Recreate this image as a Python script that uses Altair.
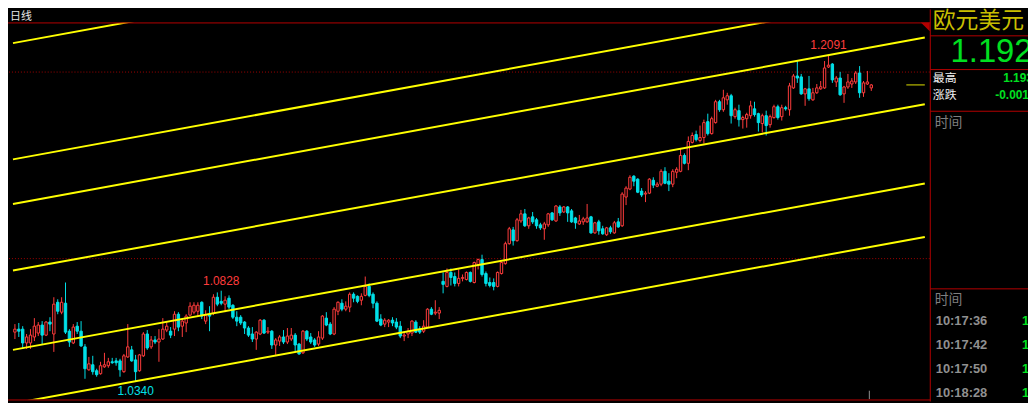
import altair as alt
import pandas as pd

# ---------------- data (EUR/USD daily candles) ----------------
opens = [1.0606, 1.0622, 1.0622, 1.0548, 1.0548, 1.0580, 1.0601, 1.0644, 1.0590, 1.0660,
         1.0596, 1.0766, 1.0713, 1.0761, 1.0611, 1.0548, 1.0638, 1.0611, 1.0527, 1.0404,
         1.0431, 1.0399, 1.0383, 1.0420, 1.0426, 1.0447, 1.0452, 1.0452, 1.0394, 1.0473,
         1.0511, 1.0457, 1.0399, 1.0479, 1.0596, 1.0527, 1.0564, 1.0553, 1.0569, 1.0617,
         1.0611, 1.0622, 1.0702, 1.0638, 1.0655, 1.0697, 1.0713, 1.0718, 1.0766, 1.0665,
         1.0702, 1.0708, 1.0793, 1.0771, 1.0756, 1.0788, 1.0750, 1.0686, 1.0686, 1.0660,
         1.0628, 1.0596, 1.0569, 1.0596, 1.0670, 1.0606, 1.0611, 1.0537, 1.0558, 1.0580,
         1.0553, 1.0569, 1.0590, 1.0542, 1.0495, 1.0611, 1.0580, 1.0564, 1.0542, 1.0574,
         1.0681, 1.0649, 1.0596, 1.0718, 1.0761, 1.0729, 1.0740, 1.0809, 1.0798, 1.0777,
         1.0803, 1.0851, 1.0809, 1.0761, 1.0676, 1.0649, 1.0660, 1.0670, 1.0660, 1.0638,
         1.0585, 1.0596, 1.0601, 1.0660, 1.0622, 1.0611, 1.0633, 1.0729, 1.0708, 1.0708,
         1.0878, 1.0851, 1.0926, 1.0904, 1.0867, 1.0894, 1.0888, 1.0926, 1.0872, 1.0968,
         1.0995, 1.0920, 1.0872, 1.0872, 1.0851, 1.0920, 1.0973, 1.1080, 1.1154, 1.1096,
         1.1202, 1.1240, 1.1176, 1.1224, 1.1208, 1.1181, 1.1160, 1.1181, 1.1245, 1.1202,
         1.1277, 1.1250, 1.1277, 1.1256, 1.1218, 1.1186, 1.1197, 1.1197, 1.1224, 1.1138,
         1.1197, 1.1160, 1.1128, 1.1165, 1.1138, 1.1197, 1.1176, 1.1330, 1.1373, 1.1442,
         1.1426, 1.1362, 1.1346, 1.1351, 1.1420, 1.1388, 1.1399, 1.1468, 1.1415, 1.1399,
         1.1463, 1.1468, 1.1553, 1.1511, 1.1623, 1.1665, 1.1633, 1.1649, 1.1734, 1.1670,
         1.1729, 1.1841, 1.1798, 1.1851, 1.1873, 1.1761, 1.1793, 1.1745, 1.1750, 1.1766,
         1.1803, 1.1777, 1.1724, 1.1766, 1.1718, 1.1756, 1.1814, 1.1761, 1.1809, 1.1798,
         1.1915, 1.1979, 1.1974, 1.1883, 1.1910, 1.1851, 1.1889, 1.1910, 1.1915, 1.2027,
         1.2043, 1.1947, 1.1968, 1.1883, 1.1920, 1.1936, 1.1947, 1.1995, 1.1889, 1.1936,
         1.1915]
highs = [1.0649, 1.0655, 1.0638, 1.0596, 1.0622, 1.0681, 1.0660, 1.0665, 1.0665, 1.0686,
         1.0793, 1.0782, 1.0793, 1.0872, 1.0622, 1.0649, 1.0660, 1.0665, 1.0542, 1.0473,
         1.0479, 1.0410, 1.0447, 1.0495, 1.0468, 1.0468, 1.0468, 1.0463, 1.0489, 1.0649,
         1.0532, 1.0484, 1.0489, 1.0606, 1.0617, 1.0585, 1.0585, 1.0622, 1.0681, 1.0660,
         1.0633, 1.0718, 1.0713, 1.0676, 1.0702, 1.0766, 1.0766, 1.0766, 1.0771, 1.0723,
         1.0745, 1.0809, 1.0819, 1.0828, 1.0798, 1.0803, 1.0756, 1.0718, 1.0697, 1.0665,
         1.0638, 1.0633, 1.0611, 1.0676, 1.0676, 1.0633, 1.0617, 1.0574, 1.0590, 1.0617,
         1.0628, 1.0628, 1.0601, 1.0548, 1.0617, 1.0617, 1.0601, 1.0574, 1.0611, 1.0697,
         1.0713, 1.0660, 1.0740, 1.0771, 1.0782, 1.0771, 1.0819, 1.0819, 1.0803, 1.0814,
         1.0904, 1.0867, 1.0819, 1.0771, 1.0702, 1.0681, 1.0676, 1.0686, 1.0681, 1.0665,
         1.0606, 1.0628, 1.0670, 1.0670, 1.0638, 1.0670, 1.0734, 1.0740, 1.0777, 1.0740,
         1.0926, 1.0947, 1.0947, 1.0926, 1.0942, 1.0915, 1.0931, 1.0931, 1.0984, 1.1000,
         1.1021, 1.0931, 1.0899, 1.0894, 1.0931, 1.0984, 1.1091, 1.1170, 1.1170, 1.1218,
         1.1261, 1.1266, 1.1224, 1.1250, 1.1218, 1.1192, 1.1197, 1.1245, 1.1250, 1.1287,
         1.1287, 1.1282, 1.1282, 1.1266, 1.1224, 1.1234, 1.1224, 1.1293, 1.1229, 1.1197,
         1.1208, 1.1176, 1.1170, 1.1176, 1.1202, 1.1218, 1.1356, 1.1388, 1.1447, 1.1447,
         1.1431, 1.1378, 1.1362, 1.1431, 1.1436, 1.1410, 1.1479, 1.1490, 1.1458, 1.1479,
         1.1490, 1.1591, 1.1564, 1.1655, 1.1676, 1.1686, 1.1713, 1.1745, 1.1777, 1.1761,
         1.1851, 1.1851, 1.1905, 1.1889, 1.1883, 1.1809, 1.1825, 1.1766, 1.1782, 1.1846,
         1.1841, 1.1782, 1.1777, 1.1793, 1.1772, 1.1825, 1.1825, 1.1825, 1.1819, 1.1942,
         1.1990, 1.2064, 1.1990, 1.1915, 1.1979, 1.1915, 1.1936, 1.1952, 1.2059, 1.2091,
         1.2048, 1.1979, 1.2001, 1.1926, 1.1990, 1.1968, 1.2006, 1.2032, 1.1952, 1.2006,
         1.1936]
lows = [1.0569, 1.0580, 1.0516, 1.0516, 1.0516, 1.0558, 1.0585, 1.0542, 1.0585, 1.0611,
        1.0500, 1.0702, 1.0702, 1.0596, 1.0527, 1.0542, 1.0596, 1.0527, 1.0356, 1.0399,
        1.0378, 1.0367, 1.0378, 1.0415, 1.0415, 1.0436, 1.0426, 1.0367, 1.0388, 1.0468,
        1.0447, 1.0340, 1.0394, 1.0473, 1.0511, 1.0516, 1.0542, 1.0447, 1.0564, 1.0606,
        1.0574, 1.0585, 1.0611, 1.0580, 1.0606, 1.0692, 1.0702, 1.0692, 1.0676, 1.0649,
        1.0611, 1.0697, 1.0745, 1.0750, 1.0713, 1.0729, 1.0676, 1.0638, 1.0644, 1.0596,
        1.0580, 1.0553, 1.0511, 1.0590, 1.0596, 1.0596, 1.0516, 1.0484, 1.0532, 1.0542,
        1.0542, 1.0558, 1.0505, 1.0484, 1.0489, 1.0558, 1.0542, 1.0527, 1.0532, 1.0564,
        1.0638, 1.0590, 1.0590, 1.0697, 1.0718, 1.0718, 1.0713, 1.0766, 1.0761, 1.0750,
        1.0798, 1.0793, 1.0734, 1.0660, 1.0638, 1.0633, 1.0633, 1.0638, 1.0622, 1.0574,
        1.0558, 1.0574, 1.0585, 1.0601, 1.0596, 1.0601, 1.0628, 1.0697, 1.0697, 1.0676,
        1.0814, 1.0846, 1.0856, 1.0851, 1.0851, 1.0878, 1.0883, 1.0872, 1.0867, 1.0942,
        1.0904, 1.0851, 1.0846, 1.0830, 1.0846, 1.0915, 1.0968, 1.1075, 1.1070, 1.1091,
        1.1192, 1.1170, 1.1160, 1.1186, 1.1160, 1.1154, 1.1101, 1.1170, 1.1202, 1.1197,
        1.1229, 1.1245, 1.1197, 1.1192, 1.1160, 1.1181, 1.1181, 1.1192, 1.1133, 1.1133,
        1.1128, 1.1128, 1.1122, 1.1133, 1.1133, 1.1165, 1.1170, 1.1287, 1.1367, 1.1388,
        1.1351, 1.1330, 1.1303, 1.1346, 1.1378, 1.1383, 1.1388, 1.1399, 1.1362, 1.1383,
        1.1431, 1.1463, 1.1505, 1.1474, 1.1617, 1.1628, 1.1623, 1.1617, 1.1660, 1.1665,
        1.1724, 1.1787, 1.1787, 1.1825, 1.1724, 1.1750, 1.1708, 1.1697, 1.1702, 1.1750,
        1.1761, 1.1681, 1.1676, 1.1660, 1.1702, 1.1750, 1.1745, 1.1740, 1.1793, 1.1766,
        1.1910, 1.1942, 1.1878, 1.1819, 1.1846, 1.1846, 1.1883, 1.1905, 1.1910, 1.2022,
        1.1942, 1.1920, 1.1873, 1.1835, 1.1910, 1.1915, 1.1936, 1.1862, 1.1867, 1.1931,
        1.1899]
closes = [1.0622, 1.0611, 1.0548, 1.0580, 1.0590, 1.0638, 1.0644, 1.0590, 1.0660, 1.0649,
          1.0756, 1.0718, 1.0766, 1.0606, 1.0553, 1.0633, 1.0611, 1.0532, 1.0410, 1.0436,
          1.0394, 1.0378, 1.0426, 1.0431, 1.0447, 1.0442, 1.0442, 1.0404, 1.0479, 1.0527,
          1.0452, 1.0394, 1.0484, 1.0596, 1.0521, 1.0564, 1.0553, 1.0569, 1.0622, 1.0638,
          1.0590, 1.0702, 1.0633, 1.0665, 1.0692, 1.0745, 1.0750, 1.0750, 1.0692, 1.0697,
          1.0692, 1.0793, 1.0756, 1.0761, 1.0777, 1.0740, 1.0686, 1.0665, 1.0655, 1.0628,
          1.0590, 1.0569, 1.0606, 1.0670, 1.0601, 1.0611, 1.0537, 1.0564, 1.0580, 1.0553,
          1.0585, 1.0590, 1.0537, 1.0489, 1.0611, 1.0569, 1.0553, 1.0537, 1.0580, 1.0692,
          1.0644, 1.0596, 1.0729, 1.0766, 1.0729, 1.0745, 1.0809, 1.0788, 1.0771, 1.0798,
          1.0851, 1.0803, 1.0761, 1.0665, 1.0644, 1.0670, 1.0670, 1.0655, 1.0633, 1.0585,
          1.0590, 1.0611, 1.0665, 1.0606, 1.0606, 1.0638, 1.0729, 1.0702, 1.0713, 1.0723,
          1.0862, 1.0926, 1.0899, 1.0867, 1.0894, 1.0899, 1.0926, 1.0878, 1.0979, 1.0995,
          1.0915, 1.0867, 1.0856, 1.0851, 1.0926, 1.0979, 1.1080, 1.1160, 1.1096, 1.1208,
          1.1240, 1.1176, 1.1218, 1.1197, 1.1176, 1.1165, 1.1186, 1.1240, 1.1208, 1.1282,
          1.1245, 1.1277, 1.1245, 1.1197, 1.1192, 1.1202, 1.1213, 1.1218, 1.1138, 1.1192,
          1.1149, 1.1133, 1.1165, 1.1144, 1.1192, 1.1170, 1.1346, 1.1378, 1.1436, 1.1415,
          1.1356, 1.1341, 1.1351, 1.1426, 1.1394, 1.1399, 1.1468, 1.1404, 1.1399, 1.1468,
          1.1479, 1.1553, 1.1511, 1.1628, 1.1660, 1.1638, 1.1649, 1.1729, 1.1670, 1.1750,
          1.1841, 1.1798, 1.1862, 1.1873, 1.1766, 1.1798, 1.1745, 1.1756, 1.1772, 1.1819,
          1.1772, 1.1729, 1.1766, 1.1713, 1.1761, 1.1814, 1.1756, 1.1809, 1.1803, 1.1926,
          1.1979, 1.1968, 1.1883, 1.1910, 1.1857, 1.1889, 1.1915, 1.1921, 1.2022, 1.2037,
          1.1958, 1.1968, 1.1878, 1.1920, 1.1947, 1.1952, 1.1995, 1.1889, 1.1942, 1.1947,
          1.1931]

# parallel channel lines: price at the left edge and at the right edge of the panel
channel_start = [1.2155, 1.1532, 1.1293, 1.0936, 1.0511, 1.0223]
channel_end = [1.3047, 1.2424, 1.2185, 1.1828, 1.1403, 1.1116]
channel_x = [-0.5, 233.75]

grid_levels = [1.20, 1.10]

high_label_idx = [209, 53]
high_label_val = [1.2091, 1.0828]
low_label_idx = [31]
low_label_val = [1.0340]

last_price = 1.1931

panel_times = ["10:17:36", "10:17:42", "10:17:50", "10:18:28"]

# ---------------- styling ----------------
RED = "#FF3C3C"
CYAN = "#00E0E8"
YELLOW = "#FFFF00"
FRAME = "#B40000"
GREEN = "#00E020"
CJK = "Noto Sans CJK SC"
LAT = "Liberation Sans"

W, H = 929, 380

n = len(opens)
df = pd.DataFrame({"i": list(range(n)), "open": opens, "high": highs,
                   "low": lows, "close": closes})
df["dir"] = ["up" if c >= o else "down" for o, c in zip(opens, closes)]

xs = alt.Scale(domain=[-0.5, 233.75], nice=False, zero=False)
ys = alt.Scale(domain=[1.0245, 1.2266], nice=False, zero=False)


def X(f):
    return alt.X(f, scale=xs, axis=None)


def Y(f):
    return alt.Y(f, scale=ys, axis=None)


one = pd.DataFrame({"a": [0]})

grid = alt.Chart(pd.DataFrame({"p": grid_levels})).mark_rule(
    color="#A00000", strokeDash=[1, 2], strokeWidth=1
).encode(y=Y("p:Q"))

rows = []
for k, (a, b) in enumerate(zip(channel_start, channel_end)):
    rows.append({"id": k, "x": channel_x[0], "p": a})
    rows.append({"id": k, "x": channel_x[1], "p": b})
channels = alt.Chart(pd.DataFrame(rows)).mark_line(
    color=YELLOW, strokeWidth=2, clip=True
).encode(x=X("x:Q"), y=Y("p:Q"), detail="id:N")

dir_stroke = alt.Stroke("dir:N", scale=alt.Scale(domain=["up", "down"], range=[RED, CYAN]), legend=None)
dir_fill = alt.Fill("dir:N", scale=alt.Scale(domain=["up", "down"], range=["#000000", CYAN]), legend=None)

wicks = alt.Chart(df).mark_rule(strokeWidth=1).encode(
    x=X("i:Q"), y=Y("low:Q"), y2="high:Q", stroke=dir_stroke
)
bodies = alt.Chart(df).mark_bar(size=2.4, strokeWidth=1).encode(
    x=X("i:Q"), y=Y("open:Q"), y2="close:Q", fill=dir_fill, stroke=dir_stroke
)

last_line = alt.Chart(pd.DataFrame({"x1": [229.0], "x2": [233.75], "p": [last_price]})).mark_rule(
    color="#E0E000", strokeWidth=1
).encode(x=X("x1:Q"), x2="x2:Q", y=Y("p:Q"))

grey_tick = alt.Chart(pd.DataFrame({"x": [219.5], "p1": [1.0292], "p2": [1.0247]})).mark_rule(
    color="#909090", strokeWidth=1
).encode(x=X("x:Q"), y=Y("p1:Q"), y2="p2:Q")

hi_labels = alt.Chart(pd.DataFrame({"i": high_label_idx, "p": high_label_val,
                                    "t": [f"{v:.4f}" for v in high_label_val]})).mark_text(
    color=RED, fontSize=12, font=LAT, dy=-10, baseline="middle"
).encode(x=X("i:Q"), y=Y("p:Q"), text="t:N")
lo_labels = alt.Chart(pd.DataFrame({"i": low_label_idx, "p": low_label_val,
                                    "t": [f"{v:.4f}" for v in low_label_val]})).mark_text(
    color=CYAN, fontSize=12, font=LAT, dy=9, baseline="middle"
).encode(x=X("i:Q"), y=Y("p:Q"), text="t:N")


def hline(y, x1, x2, color=FRAME):
    return alt.Chart(one).mark_rule(color=color, strokeWidth=1).encode(
        x=alt.value(x1), x2=alt.value(x2), y=alt.value(y), y2=alt.value(y))


def vline(x, y1, y2, color=FRAME):
    return alt.Chart(one).mark_rule(color=color, strokeWidth=1).encode(
        x=alt.value(x), x2=alt.value(x), y=alt.value(y1), y2=alt.value(y2))


def label(txt, x, y, size, color, font=LAT, weight="normal", align="left"):
    return alt.Chart(pd.DataFrame({"t": [txt]})).mark_text(
        fontSize=size, color=color, font=font, fontWeight=weight,
        align=align, baseline="middle"
    ).encode(text="t:N", x=alt.value(x), y=alt.value(y))


frame = [
    hline(0.5, 0, 929.5),
    hline(380.5, 0, 929.5),
    vline(929.5, -13, 382),
    hline(13.5, 929.5, 1028),
    hline(47.5, 929.5, 1028),
    hline(89.5, 929.5, 1028),
    hline(268.5, 929.5, 1028),
]

triangle = alt.Chart(one).mark_point(
    shape="M -1 -1 L 1 -1 L 1 1 Z", size=81, filled=True, color=FRAME, opacity=1
).encode(x=alt.value(924.5), y=alt.value(4.5))

panel = [
    label("日线", 2, -5.5, 11, "#E6E6E6", font=CJK),
    label("欧元美元", 932, -1, 23, "#C8BE00", font=CJK),
    label("1.192", 950, 30, 33, GREEN),
    label("最高", 932, 56.5, 12, "#F0F0F0", font=CJK),
    label("1.193", 1003, 56.5, 12, GREEN, weight="bold"),
    label("涨跌", 932, 73.5, 12, "#F0F0F0", font=CJK),
    label("-0.001", 995, 73.5, 12, GREEN, weight="bold"),
    label("时间", 934, 101, 14, "#7F7F7F", font=CJK),
    label("时间", 934, 280, 14, "#7F7F7F", font=CJK),
]
for k, t in enumerate(panel_times):
    yy = 301 + 24 * k
    panel.append(label(t, 935, yy, 13, "#909090", weight="bold"))
    panel.append(label("1", 1022, yy, 13, GREEN, weight="bold"))

chart = alt.layer(
    grid, wicks, bodies, channels, last_line, grey_tick, hi_labels, lo_labels,
    *frame, triangle, *panel
).properties(
    width=W, height=H,
    padding={"left": 0, "top": 13, "right": 99, "bottom": 2},
    autosize=alt.AutoSizeParams(type="none"),
).configure(background="#000000").configure_view(strokeWidth=0)

chart.save("out.html", embed_options={"renderer": "svg", "actions": False})
